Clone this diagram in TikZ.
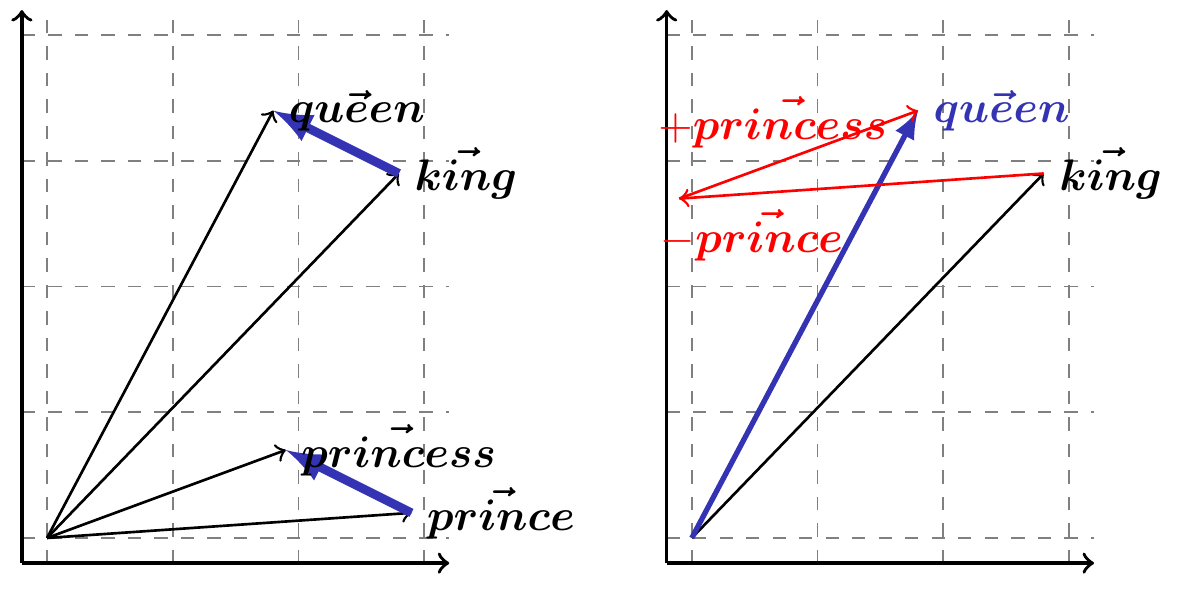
\documentclass[tikz,border=0pt]{standalone}
\usepackage{amsmath,bm}
\definecolor{vecblue}{RGB}{51,51,179}
\tikzset{
  gridline/.style={gray, dashed},
  axis/.style={thick, ->},
  wordvec/.style={semithick, ->},
  diffvec/.style={vecblue, line width=2pt, -latex},
  wordname/.style={right},
}
\begin{document}
\begin{tikzpicture}
  \useasboundingbox (-0.374,-0.469) rectangle (8.99,4.28);

  \begin{scope}[]
  \draw[gridline] (-0.2,-0.2) grid (3.2,4.2);
  \draw[axis] (-0.2,-0.2) -- (3.2,-0.2);
  \draw[axis] (-0.2,-0.2) -- (-0.2,4.2);
  \coordinate (o) at (0,0);
  \coordinate (king) at (2.8,2.9);
  \coordinate (queen) at (1.8,3.4);
  \coordinate (prince) at (2.9,0.2);
  \coordinate (princess) at (1.9,0.7);
  \draw[wordvec] (o) -- (king);
  \draw[wordvec] (o) -- (queen);
  \draw[wordvec] (o) -- (prince);
  \draw[wordvec] (o) -- (princess);
  \draw[diffvec] (king) -- (queen);
  \draw[diffvec] (prince) -- (princess);
  \node[wordname] (kingname) at (king) {$\bm{\vec{king}}$};
  \node[wordname] (queenname) at (queen) {$\bm{\vec{queen}}$};
  \node[wordname] (princename) at (prince) {$\bm{\vec{prince}}$};
  \node[wordname] (princessname) at (princess) {$\bm{\vec{princess}}$};
  \end{scope}

  \begin{scope}[shift={(5.13,0)}]
  \draw[gridline] (-0.2,-0.2) grid (3.2,4.2);
  \draw[axis] (-0.2,-0.2) -- (3.2,-0.2);
  \draw[axis] (-0.2,-0.2) -- (-0.2,4.2);
  \coordinate (o2) at (0,0);
  \coordinate (king2) at (2.8,2.9);
  \coordinate (queen2) at (1.8,3.4);
  \coordinate (kmp) at (-0.1,2.7);
  \draw[wordvec] (o2) -- (king2);
  \draw[vecblue, very thick, -latex] (o2) -- (queen2);
  \draw[red, semithick, ->] (king2) -- (kmp);
  \draw[red, semithick, ->] (kmp) -- (queen2);
  \node[wordname] (kingname2) at (king2) {$\bm{\vec{king}}$};
  \node[wordname, vecblue] (queenname2) at (queen2) {$\bm{\vec{queen}}$};
  \node[red, anchor=west] (plusprincess) at (-0.39,3.31) {$+\bm{\vec{princess}}$};
  \node[red, anchor=west] (minusprince) at (-0.37,2.41) {$-\bm{\vec{prince}}$};
  \end{scope}
\end{tikzpicture}
\end{document}
